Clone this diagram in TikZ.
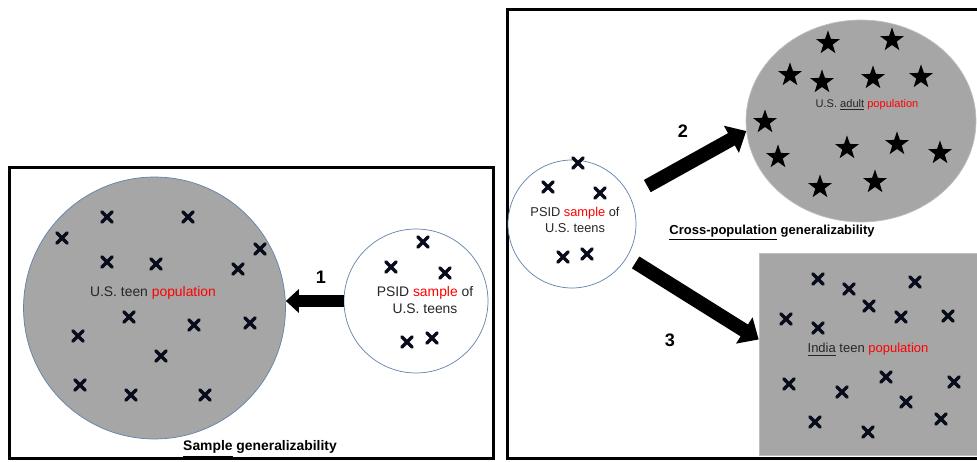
\documentclass[tikz,border=0pt]{standalone}
\usepackage{fontspec}
\setmainfont{Liberation Sans}
\usepackage{xcolor}
\usepackage{tikz}
\usetikzlibrary{shapes.geometric,shapes.misc,arrows.meta}

\definecolor{popGray}{RGB}{166,166,166}
\definecolor{rimBlue}{RGB}{96,130,170}
\definecolor{rimGray}{RGB}{190,190,190}
\definecolor{markNavy}{RGB}{8,12,26}
\definecolor{txtDark}{RGB}{38,38,38}

\tikzstyle{tsFrame} = [
    rectangle,
    draw=black,
    line width=0.06cm,
    inner sep=0pt
]
\tikzstyle{tsPop} = [
    circle,
    fill=popGray,
    draw=rimBlue,
    line width=0.4pt,
    inner sep=0pt
]
\tikzstyle{tsSample} = [
    tsPop,
    fill=white
]
\tikzstyle{tsCross} = [
    cross out,
    draw=markNavy,
    line width=0.065cm,
    line cap=round,
    minimum size=0.14cm,
    inner sep=0pt
]
\tikzstyle{tsStar} = [
    star,
    star points=5,
    star point ratio=2.5,
    fill=black,
    minimum size=0.5cm,
    inner sep=0pt
]
\tikzstyle{tsText} = [
    text=txtDark,
    align=center,
    inner sep=0pt,
    font=\fontsize{7.9}{9.5}\selectfont
]
\tikzstyle{tsTextSmall} = [
    tsText,
    font=\fontsize{7.3}{8.8}\selectfont
]
\tikzstyle{tsCaption} = [
    text=black,
    inner sep=0pt,
    font=\bfseries\fontsize{7.9}{9.5}\selectfont
]
\tikzstyle{tsNumber} = [
    text=black,
    inner sep=0pt,
    font=\bfseries\fontsize{10.3}{12}\selectfont
]
\tikzstyle{tsArrow} = [
    line width=0.28cm,
    -{Triangle[width=0.6cm,length=0.34cm]}
]

\begin{document}
\begin{tikzpicture}[x=0.02cm, y=-0.02cm]

        \useasboundingbox (0,0) rectangle (977,462);

        % the two panels
        \node[tsFrame, minimum width=9.7cm, minimum height=5.84cm] (panelL) at (251.5,313) { };
        \node[tsFrame, minimum width=9.66cm, minimum height=9.0cm] (panelR) at (748.5,234) { };

        % left panel
        \node[tsPop, minimum size=5.24cm] (popUS) at (154.5,308) { };
        \node[tsSample, minimum size=2.88cm] (sampUS) at (416,301) { };

        \node[tsCross] (xa1) at (107,217) { };
        \node[tsCross] (xa2) at (188,217) { };
        \node[tsCross] (xa3) at (62,238) { };
        \node[tsCross] (xa4) at (260,249) { };
        \node[tsCross] (xa5) at (107,262) { };
        \node[tsCross] (xa6) at (156,264) { };
        \node[tsCross] (xa7) at (238,269) { };
        \node[tsCross] (xa8) at (129,317) { };
        \node[tsCross] (xa9) at (194,325) { };
        \node[tsCross] (xa10) at (250,323) { };
        \node[tsCross] (xa11) at (78,336) { };
        \node[tsCross] (xa12) at (161,356) { };
        \node[tsCross] (xa13) at (80,385) { };
        \node[tsCross] (xa14) at (131,395) { };
        \node[tsCross] (xa15) at (205,395) { };

        \node[tsCross] (xb1) at (423,242) { };
        \node[tsCross] (xb2) at (391,267) { };
        \node[tsCross] (xb3) at (445,273) { };
        \node[tsCross] (xb4) at (407,342) { };
        \node[tsCross] (xb5) at (432,338) { };

        \node[tsText] (txtUS) at (153,293) {U.S. teen \textcolor{red}{population}};
        \node[tsText] (txtSampUS) at (425,300) {PSID \textcolor{red}{sample} of\\U.S. teens};

        \draw[tsArrow, -{Triangle[width=0.46cm,length=0.26cm]}, line width=0.24cm]
            (sampUS.west) -- (sampUS.west -| popUS.east);
        \node[tsNumber] (lbl1) at (321,277) {1};

        \node[tsCaption] (capL) at (260,449) {\underline{Sample} generalizability};

        % right panel
        \node[tsSample, minimum size=2.56cm] (sampX) at (572,224) { };

        \node[tsCross] (xc1) at (578,163) { };
        \node[tsCross] (xc2) at (548,187) { };
        \node[tsCross] (xc3) at (600,193) { };
        \node[tsCross] (xc4) at (563,257) { };
        \node[tsCross] (xc5) at (587,254) { };

        \node[tsTextSmall] (txtSampX) at (575,220) {PSID \textcolor{red}{sample} of\\U.S. teens};

        \node[ellipse, fill=popGray, draw=rimGray, line width=0.4pt, inner sep=0pt,
              minimum width=4.6cm, minimum height=4.04cm] (popAdult) at (861,121) { };

        \node[tsStar] (st1) at (828,43) { };
        \node[tsStar] (st2) at (892,40) { };
        \node[tsStar] (st3) at (790,75) { };
        \node[tsStar] (st4) at (822,82) { };
        \node[tsStar] (st5) at (873,78) { };
        \node[tsStar] (st6) at (921,77) { };
        \node[tsStar] (st7) at (765,122) { };
        \node[tsStar] (st8) at (778,157) { };
        \node[tsStar] (st9) at (847,148) { };
        \node[tsStar] (st10) at (897,144) { };
        \node[tsStar] (st11) at (940,153) { };
        \node[tsStar] (st12) at (820,187) { };
        \node[tsStar] (st13) at (875,182) { };

        \node[tsText, font=\fontsize{6.3}{7.5}\selectfont] (txtAdult) at (867,105)
            {U.S. \underline{adult} \textcolor{red}{population}};

        \node[rectangle, fill=popGray, draw=rimGray, line width=0.4pt, inner sep=0pt,
              minimum width=4.72cm, minimum height=4.04cm] (popIndia) at (877,354) { };

        \node[tsCross] (xd1) at (818,279) { };
        \node[tsCross] (xd2) at (849,289) { };
        \node[tsCross] (xd3) at (915,282) { };
        \node[tsCross] (xd4) at (869,306) { };
        \node[tsCross] (xd5) at (786,319) { };
        \node[tsCross] (xd6) at (901,317) { };
        \node[tsCross] (xd7) at (948,316) { };
        \node[tsCross] (xd8) at (818,328) { };
        \node[tsCross] (xd9) at (789,384) { };
        \node[tsCross] (xd10) at (886,377) { };
        \node[tsCross] (xd11) at (954,382) { };
        \node[tsCross] (xd12) at (842,392) { };
        \node[tsCross] (xd13) at (906,402) { };
        \node[tsCross] (xd14) at (815,422) { };
        \node[tsCross] (xd15) at (941,419) { };
        \node[tsCross] (xd16) at (868,432) { };

        \node[tsTextSmall, font=\fontsize{7.4}{8.8}\selectfont] (txtIndia) at (868,350)
            {\underline{India} teen \textcolor{red}{population}};

        \draw[tsArrow, shorten <=0.4cm] (sampX.26) -- (popAdult.185);
        \draw[tsArrow, shorten <=0.2cm] (sampX.-31) -- (popIndia.173);
        \node[tsNumber] (lbl2) at (683,131) {2};
        \node[tsNumber] (lbl3) at (670,340) {3};

        \node[tsCaption, font=\bfseries\fontsize{7.4}{8.8}\selectfont] (capR) at (772,233)
            {\underline{Cross-population} generalizability};

\end{tikzpicture}
\end{document}
